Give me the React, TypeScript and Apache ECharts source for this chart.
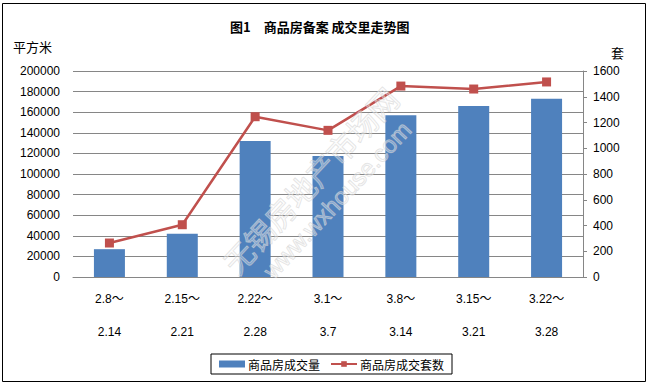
import React, { useEffect, useRef } from "react";
import * as echarts from "echarts";

const categories = ["2.8～\n2.14", "2.15～\n2.21", "2.22～\n2.28", "3.1～\n3.7", "3.8～\n3.14", "3.15～\n3.21", "3.22～\n3.28"];
const areaValues = [27000, 42000, 132000, 117500, 157000, 166000, 173000];
const unitValues = [264, 406, 1245, 1139, 1483, 1460, 1515];
const leftTicks = { min: 0, max: 200000, interval: 20000 };
const rightTicks = { min: 0, max: 1600, interval: 200 };

const FONT = "'Liberation Sans', Arial, 'Noto Sans CJK SC', sans-serif";

export default function App() {
  const ref = useRef<HTMLDivElement>(null);
  useEffect(() => {
    if (!ref.current) return;
    const chart = echarts.init(ref.current, undefined, { renderer: "svg" });
    chart.setOption({
      animation: false,
      backgroundColor: "#ffffff",
      textStyle: { fontFamily: FONT },
      title: {
        text: "图1　商品房备案 成交里走势图",
        left: 225,
        top: 15,
        textStyle: { fontSize: 13, fontWeight: "bold", color: "#000", fontFamily: "'Noto Sans CJK SC', sans-serif" },
      },
      grid: { left: 73, right: 68, top: 71, bottom: 108, containLabel: false },
      legend: {
        left: 211,
        top: 354,
        padding: [4, 8, 4, 8],
        borderColor: "#000",
        borderWidth: 1,
        itemGap: 10,
        itemWidth: 26,
        itemHeight: 7,
        textStyle: { fontSize: 12, color: "#000", fontFamily: "'Noto Sans CJK SC', sans-serif", padding: [0, 0, 0, -2] },
        data: [
          { name: "商品房成交量", icon: "rect" },
          { name: "商品房成交套数" },
        ],
      },
      xAxis: {
        type: "category",
        data: categories,
        axisLine: { show: true, lineStyle: { color: "#868686", width: 1 } },
        axisTick: { show: false },
        axisLabel: { fontSize: 12, color: "#000", lineHeight: 33, margin: 5, interval: 0 },
      },
      yAxis: [
        {
          type: "value",
          min: leftTicks.min,
          max: leftTicks.max,
          interval: leftTicks.interval,
          axisLine: { show: false },
          axisTick: { show: false },
          splitLine: { lineStyle: { color: "#868686", width: 1 } },
          axisLabel: { fontSize: 12, color: "#000", margin: 13, formatter: (v: number) => String(v) },
        },
        {
          type: "value",
          min: rightTicks.min,
          max: rightTicks.max,
          interval: rightTicks.interval,
          axisLine: { show: true, lineStyle: { color: "#868686", width: 1 } },
          axisTick: { show: true, length: 4, lineStyle: { color: "#868686" } },
          splitLine: { show: false },
          axisLabel: { fontSize: 12, color: "#000", margin: 10, formatter: (v: number) => String(v) },
        },
      ],
      series: [
        {
          name: "商品房成交量",
          type: "bar",
          data: areaValues,
          barWidth: 31,
          itemStyle: { color: "#4F81BD" },
          yAxisIndex: 0,
        },
        {
          name: "商品房成交套数",
          type: "line",
          data: unitValues,
          yAxisIndex: 1,
          symbol: "rect",
          symbolSize: 9,
          lineStyle: { color: "#C0504D", width: 2.5 },
          itemStyle: { color: "#C0504D" },
          z: 3,
        },
      ],
      graphic: [
        {
          type: "rect",
          shape: { x: 2.5, y: 3.5, width: 643, height: 378 },
          style: { fill: "none", stroke: "#000", lineWidth: 1 },
          silent: true,
        },
        {
          type: "text",
          left: 13,
          top: 40,
          style: { text: "平方米", font: "13px 'Noto Sans CJK SC', sans-serif", fill: "#000" },
        },
        {
          type: "text",
          left: 611,
          top: 46,
          style: { text: "套", font: "13px 'Noto Sans CJK SC', sans-serif", fill: "#000" },
        },
        {
          type: "text",
          x: 310,
          y: 180,
          rotation: 0.82,
          z: 10,
          silent: true,
          style: {
            text: "无锡房地产市场网",
            font: "30px 'Noto Sans CJK SC', sans-serif",
            fill: "rgba(255,255,255,0.3)",
            stroke: "rgba(205,205,205,0.6)",
            lineWidth: 1,
            align: "center",
            verticalAlign: "middle",
          },
        },
        {
          type: "text",
          x: 337,
          y: 200,
          rotation: 0.82,
          z: 10,
          silent: true,
          style: {
            text: "www.wxhouse.com",
            font: "24px 'Liberation Sans', sans-serif",
            fill: "rgba(255,255,255,0.3)",
            stroke: "rgba(205,205,205,0.6)",
            lineWidth: 1,
            align: "center",
            verticalAlign: "middle",
          },
        },
      ],
    });
    return () => chart.dispose();
  }, []);
  return <div ref={ref} style={{ width: 651, height: 385, position: "absolute", left: 0, top: 0 }} />;
}
